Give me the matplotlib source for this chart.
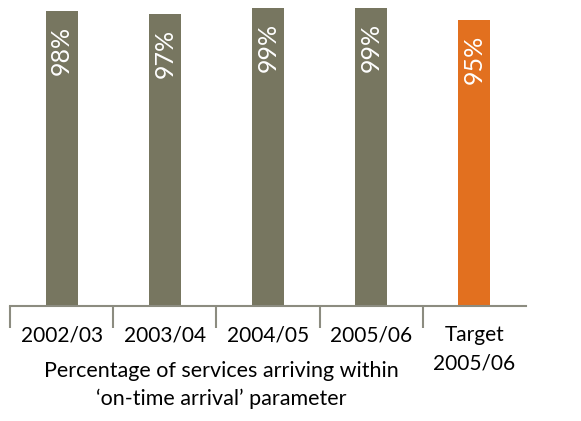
import numpy as np
import matplotlib
matplotlib.use('Agg')
import matplotlib.pyplot as plt

plt.rcParams['font.family'] = ['Lato', 'DejaVu Sans']

categories = ['2002/03', '2003/04', '2004/05', '2005/06', 'Target\n2005/06']
values = [98, 97, 99, 99, 95]
bar_labels = ['98%', '97%', '99%', '99%', '95%']
colours = ['#777660', '#777660', '#777660', '#777660', '#E2701F']

fig = plt.figure(figsize=(5.81, 4.21), dpi=100)
ax = fig.add_axes([10/581, 115/421, 516/581, 306/421])

x = np.arange(len(categories))
ax.bar(x, values, width=0.31, color=colours)
for xi, v, lab in zip(x, values, bar_labels):
    ax.text(xi, v - 5, lab, rotation=90, ha='center', va='top',
            color='white', fontsize=18)

ax.set_xlim(-0.5, len(categories) - 0.5)
ax.set_ylim(0, 101.6)
ax.set_yticks([])
for s in ['top', 'right', 'left']:
    ax.spines[s].set_visible(False)
ax.spines['bottom'].set_color('#8c8c80')
ax.spines['bottom'].set_linewidth(1.5)

ax.set_xticks(x)
ax.set_xticklabels(categories, fontsize=15, linespacing=1.5)
ax.tick_params(axis='x', which='major', length=0, pad=14)
ax.set_xticks(np.arange(len(categories)) - 0.5, minor=True)
ax.tick_params(axis='x', which='minor', length=16, width=1.5, color='#8c8c80')

fig.text(221/581, 1 - 385/421, 'Percentage of services arriving within\n\u2018on-time arrival\u2019 parameter',
         ha='center', va='center', fontsize=15.5, linespacing=1.45)

fig.savefig('out.png', dpi=100)
